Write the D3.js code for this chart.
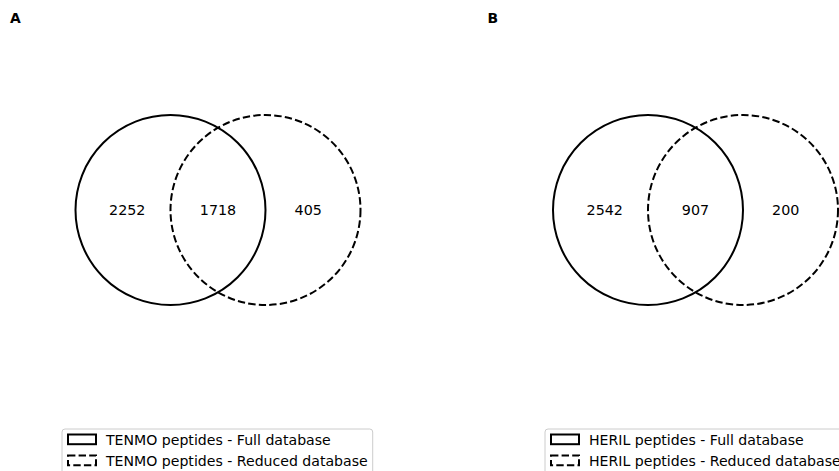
<!DOCTYPE html>
<html>
<head>
<meta charset="utf-8">
<script src="https://cdn.jsdelivr.net/npm/d3@7/dist/d3.min.js"></script>
<style>
  html, body { margin: 0; padding: 0; background: #fff; }
  svg { display: block; font-family: "DejaVu Sans", sans-serif; }
</style>
</head>
<body>
<svg id="chart" width="839" height="471"></svg>
<script>
// Two-set Venn diagrams (unweighted layout), one per species
const panelLetters = ["A", "B"];
const speciesNames = ["TENMO", "HERIL"];
const setNames = ["Full database", "Reduced database"];
// region counts: [only in full, in both, only in reduced]
const tenmoCounts = [2252, 1718, 405];
const herilCounts = [2542, 907, 200];
const panelCounts = [tenmoCounts, herilCounts];
// set styles: solid outline for full, dashed for reduced
const setDash = [null, "7.4,3.2"];

const svg = d3.select("#chart");
const W = 839, H = 471;

// panel origins (pixel)
const panelX = d3.scaleOrdinal().domain([0, 1]).range([0, 477.5]);

panelCounts.forEach((counts, i) => {
  const g = svg.append("g").attr("transform", `translate(${panelX(i)},0)`);

  // unit circles of radius 1, centers at -0.5 and +0.5
  const x = d3.scaleLinear().domain([-1.5, 1.5]).range([75.5, 360.5]);
  const y = d3.scaleLinear().domain([-1, 1]).range([115, 305]);
  const r = x(1) - x(0);

  const circles = [{cx: -0.5, cy: 0, dash: setDash[0]}, {cx: 0.5, cy: 0, dash: setDash[1]}];
  g.selectAll("circle.set").data(circles).join("circle")
    .attr("class", "set")
    .attr("cx", d => x(d.cx))
    .attr("cy", d => y(d.cy))
    .attr("r", r)
    .attr("fill", "none")
    .attr("stroke", "#000")
    .attr("stroke-width", 2)
    .attr("stroke-dasharray", d => d.dash);

  // region label positions in unit space
  const labelPos = [-0.955, 0, 0.95];
  g.selectAll("text.count").data(counts).join("text")
    .attr("class", "count")
    .attr("x", (d, k) => x(labelPos[k]))
    .attr("y", y(0))
    .attr("dy", "0.36em")
    .attr("text-anchor", "middle")
    .attr("font-size", 14.3)
    .attr("fill", "#000")
    .text(d => d3.format("d")(d));

  // panel letter
  g.append("text")
    .attr("x", 10)
    .attr("y", 23)
    .attr("font-size", 13.9)
    .attr("font-weight", "bold")
    .text(panelLetters[i]);

  // legend
  const fs = 14.1;
  const lg = g.append("g").attr("transform", `translate(${i === 0 ? 62 : 67.5},429)`);
  const labels = setNames.map(s => `${speciesNames[i]} peptides - ${s}`);
  const rowY = [10.5, 31.5];
  const textW = d3.max(labels, l => {
    const t = svg.append("text").attr("font-size", fs).text(l);
    const w = t.node().getComputedTextLength();
    t.remove();
    return w;
  });
  lg.append("rect")
    .attr("x", 0).attr("y", 0)
    .attr("width", 44 + textW + 5)
    .attr("height", 48)
    .attr("rx", 3)
    .attr("fill", "#fff")
    .attr("fill-opacity", 0.8)
    .attr("stroke", "#cccccc")
    .attr("stroke-width", 1);
  const rows = lg.selectAll("g.row").data(labels).join("g")
    .attr("class", "row")
    .attr("transform", (d, k) => `translate(0,${rowY[k]})`);
  rows.append("rect")
    .attr("x", 6).attr("y", -5)
    .attr("width", 28).attr("height", 9.7)
    .attr("fill", "none")
    .attr("stroke", "#000")
    .attr("stroke-width", 2)
    .attr("stroke-dasharray", (d, k) => setDash[k]);
  rows.append("text")
    .attr("x", 44)
    .attr("y", 0)
    .attr("dy", "0.36em")
    .attr("font-size", fs)
    .attr("fill", "#000")
    .text(d => d);
});
</script>
</body>
</html>
